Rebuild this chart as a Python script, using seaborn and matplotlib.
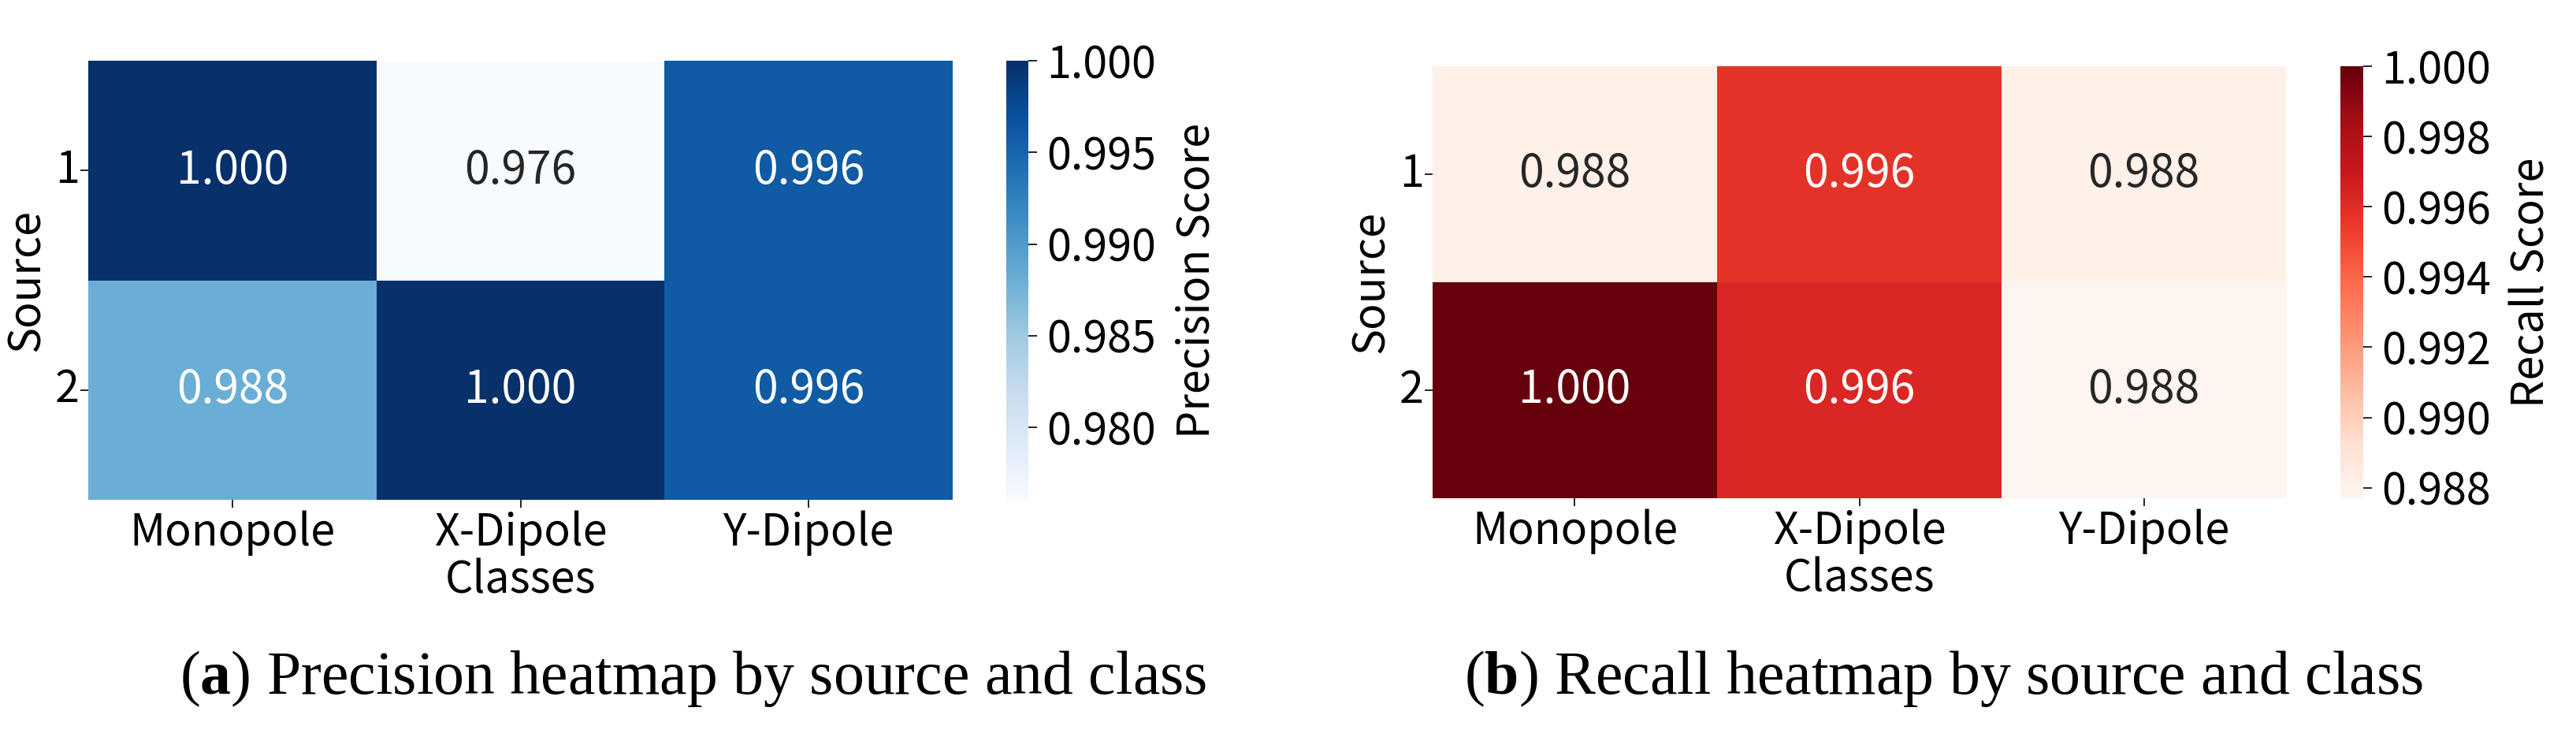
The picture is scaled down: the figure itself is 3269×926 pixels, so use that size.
# Две тепловые карты: precision и recall по источникам и классам

import pandas as pd
import seaborn as sns
import matplotlib.pyplot as plt

classes = ['Monopole', 'X-Dipole', 'Y-Dipole']
sources = ['1', '2']
precision = [[1.000, 0.976, 0.996],
             [0.988, 1.000, 0.996]]
recall = [[0.9881, 0.9958, 0.9881],
          [1.000, 0.9963, 0.9877]]
prec_ticks = [0.980, 0.985, 0.990, 0.995, 1.000]
rec_ticks = [0.988, 0.990, 0.992, 0.994, 0.996, 0.998, 1.000]

sns.set_theme(style='ticks', rc={'text.color': 'black', 'axes.labelcolor': 'black',
                                 'xtick.color': 'black', 'ytick.color': 'black'})
plt.rcParams['font.family'] = ['Noto Sans CJK SC', 'DejaVu Sans']
plt.rcParams['mathtext.fontset'] = 'custom'
plt.rcParams['mathtext.rm'] = 'Liberation Serif'
plt.rcParams['mathtext.bf'] = 'Liberation Serif:bold'

W, H = 3269, 926
fig = plt.figure(figsize=(W / 100, H / 100), dpi=100)


def box(x0, y0, x1, y1):
    # пиксели картинки -> доли фигуры
    return [x0 / W, 1 - y1 / H, (x1 - x0) / W, (y1 - y0) / H]


panels = [
    dict(values=precision, cmap='Blues', label='Precision Score', ticks=prec_ticks,
         ax=box(112, 77, 1209, 634), cax=box(1277, 77, 1305, 635),
         caption='($\\mathbf{a}$) Precision heatmap by source and class', cx=880),
    dict(values=recall, cmap='Reds', label='Recall Score', ticks=rec_ticks,
         ax=box(1818, 84, 2901, 632), cax=box(2970, 84, 2999, 632),
         caption='($\\mathbf{b}$) Recall heatmap by source and class', cx=2466),
]

for p in panels:
    df = pd.DataFrame(p['values'], index=sources, columns=classes)
    ax = fig.add_axes(p['ax'])
    cax = fig.add_axes(p['cax'])
    sns.heatmap(df, ax=ax, cbar_ax=cax, cmap=p['cmap'], annot=True, fmt='.3f',
                annot_kws={'size': 41},
                cbar_kws={'ticks': p['ticks']})
    ax.set_xlabel('Classes', fontsize=40, labelpad=2)
    ax.set_ylabel('Source', fontsize=40, labelpad=5)
    ax.tick_params(axis='both', labelsize=40, length=7, width=1.2)
    ax.tick_params(axis='x', pad=3)
    ax.tick_params(axis='y', pad=1)
    plt.setp(ax.get_yticklabels(), rotation=0)
    plt.setp(ax.get_xticklabels(), rotation=0)

    cax.tick_params(labelsize=40, length=8, width=1.2, pad=9)
    cax.yaxis.set_major_formatter('{x:.3f}')
    cax.set_ylabel(p['label'], fontsize=40, labelpad=16)

    fig.text(p['cx'] / W, 1 - 880 / H, p['caption'], family='Liberation Serif',
             fontsize=56, ha='center', va='baseline')

fig.savefig('out.png', dpi=100, facecolor='white')
